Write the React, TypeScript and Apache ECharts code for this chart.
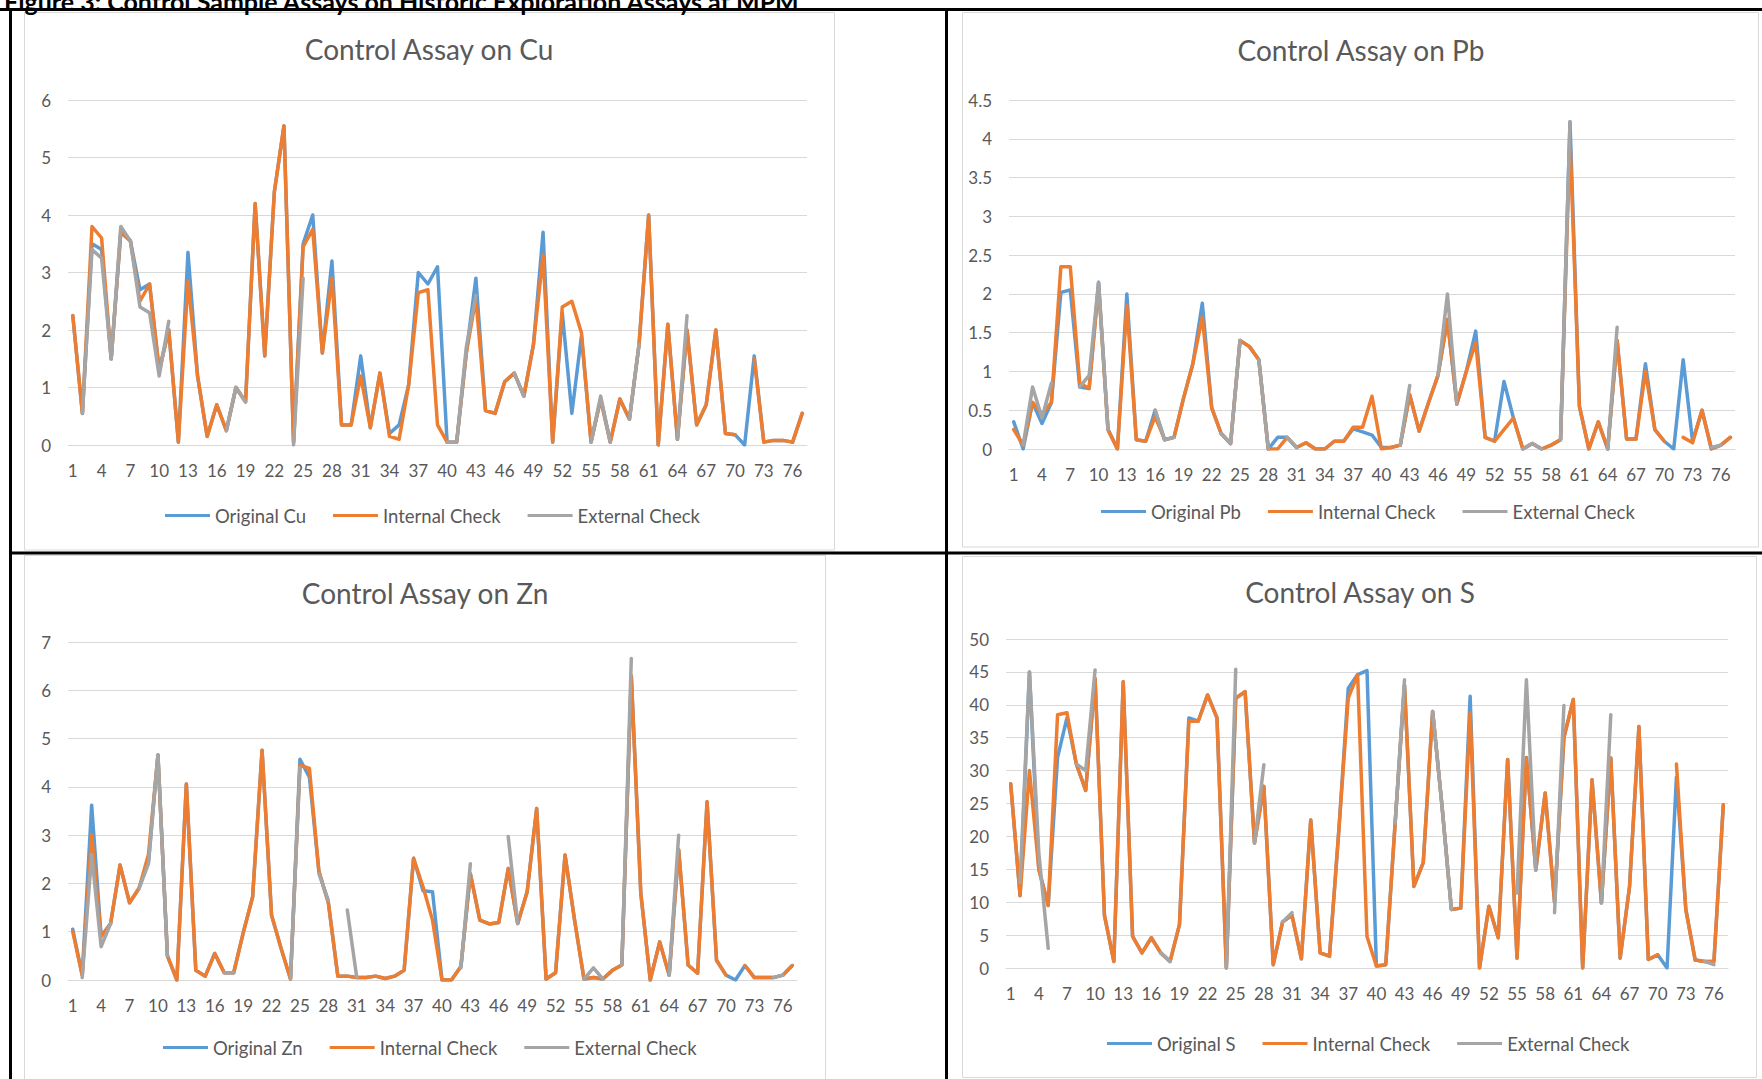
import React, { useEffect, useRef } from "react";
import * as echarts from "echarts";

// Sample numbers 1..77
const categories: string[] = Array.from({ length: 77 }, (_, i) => String(i + 1));

// ---------- Cu ----------
const cuOriginal = [2.25,0.55,3.5,3.4,1.5,3.7,3.55,2.7,2.8,1.3, 2.0,0.05,3.35,1.2,0.15,0.7,0.25,1.0,0.75,4.2, 1.55,4.4,5.55,0.05,3.5,4.0,1.6,3.2,0.35,0.35, 1.55,0.3,1.25,0.2,0.35,1.05,3.0,2.8,3.1,0.05, 0.05,1.6,2.9,0.6,0.55,1.1,1.25,0.85,1.75,3.7, 0.05,2.3,0.55,1.9,0.05,0.8,0.05,0.8,0.45,1.75, 4.0,0.0,2.1,0.1,2.0,0.35,0.7,2.0,0.2,0.18, 0.0,1.55,0.05,0.08,0.08,0.05,0.55];
const cuInternal = [2.25,0.55,3.8,3.6,1.5,3.7,3.55,2.5,2.8,1.3, 2.0,0.05,2.85,1.2,0.15,0.7,0.25,1.0,0.75,4.2, 1.55,4.4,5.55,0.05,3.45,3.75,1.6,2.9,0.35,0.35, 1.2,0.3,1.25,0.15,0.1,1.05,2.65,2.7,0.35,0.05, 0.05,1.6,2.55,0.6,0.55,1.1,1.25,0.85,1.75,3.3, 0.05,2.4,2.5,1.95,0.05,0.8,0.05,0.8,0.45,1.75, 4.0,0.0,2.1,0.1,2.0,0.35,0.7,2.0,0.2,0.18, null,1.5,0.05,0.08,0.08,0.05,0.55];
const cuExternal = [null,0.55,3.4,3.25,1.5,3.8,3.55,2.4,2.3,1.2, 2.15,null,null,null,null,null,0.25,1.0,0.75,null, null,null,null,0.0,2.9,null,null,null,null,null, null,null,null,null,null,null,null,null,null,0.05, 0.05,1.7,2.6,null,null,null,1.25,0.85,null,null, null,null,null,null,0.05,0.85,0.05,null,0.45,1.75, null,null,null,0.1,2.25,null,null,null,null,null, null,null,null,null,null,null,null];

// ---------- Pb ----------
const pbOriginal = [0.35,0.0,0.6,0.33,0.6,2.02,2.05,0.8,0.78,2.15, 0.25,0.0,2.0,0.12,0.1,0.5,0.12,0.15,0.65,1.1, 1.88,0.53,0.2,0.07,1.4,1.32,1.15,0.0,0.15,0.15, 0.02,0.08,0.0,0.0,0.1,0.1,0.26,0.22,0.18,0.02, 0.02,0.05,0.7,0.23,0.6,0.95,1.67,0.58,1.0,1.52, 0.15,0.1,0.87,0.4,0.0,0.07,0.0,0.05,0.12,4.22, 0.55,0.0,0.35,0.0,1.4,0.13,0.13,1.1,0.25,0.1, 0.0,1.15,0.1,0.5,0.0,0.05,0.15];
const pbInternal = [0.25,0.05,0.6,0.45,0.6,2.35,2.35,0.85,0.78,2.1, 0.25,0.0,1.85,0.12,0.1,0.42,0.12,0.15,0.65,1.1, 1.7,0.53,0.2,0.07,1.4,1.32,1.15,0.0,0.0,0.15, 0.02,0.08,0.0,0.0,0.1,0.1,0.28,0.28,0.68,0.0, 0.02,0.05,0.7,0.23,0.6,0.95,1.67,0.58,1.0,1.37, 0.15,0.1,0.25,0.4,0.0,0.07,0.0,0.05,0.12,4.0, 0.55,0.0,0.35,0.0,1.4,0.13,0.13,1.0,0.25,0.1, null,0.15,0.08,0.5,0.0,0.05,0.15];
const pbExternal = [null,0.05,0.8,0.4,0.85,null,null,0.8,0.95,2.15, 0.25,null,null,null,null,0.5,0.12,0.15,null,null, null,null,0.2,0.07,1.4,null,1.15,0.0,null,0.15, 0.02,null,null,null,null,null,null,null,null,null, null,0.05,0.82,null,null,0.95,2.0,0.58,null,null, null,null,null,null,0.0,0.07,0.0,null,0.12,4.22, null,null,null,0.0,1.57,null,null,null,null,null, null,null,null,null,0.02,0.05,null];

// ---------- Zn ----------
const znOriginal = [1.05,0.1,3.62,0.9,1.17,2.38,1.6,1.9,2.45,4.66, 0.5,0.0,4.06,0.2,0.08,0.55,0.15,0.15,0.97,1.72, 4.76,1.34,0.66,0.02,4.57,4.2,2.25,1.6,0.08,0.08, 0.05,0.05,0.08,0.03,0.08,0.2,2.52,1.85,1.83,0.0, 0.0,0.28,2.2,1.24,1.16,1.19,2.31,1.17,1.83,3.55, 0.02,0.15,2.59,1.25,0.02,0.05,0.02,0.2,0.31,6.3, 1.8,0.0,0.79,0.1,2.7,0.31,0.14,3.69,0.41,0.1, 0.0,0.3,0.05,0.05,0.05,0.1,0.3];
const znInternal = [1.0,0.1,3.0,0.9,1.17,2.38,1.6,1.9,2.6,4.66, 0.5,0.0,4.06,0.2,0.08,0.55,0.15,0.15,0.97,1.72, 4.76,1.34,0.66,0.02,4.45,4.38,2.25,1.6,0.08,0.08, 0.05,0.05,0.08,0.03,0.08,0.2,2.52,1.93,1.24,0.0, 0.0,0.28,2.2,1.24,1.16,1.19,2.31,1.17,1.83,3.55, 0.02,0.15,2.59,1.25,0.02,0.05,0.02,0.2,0.31,6.3, 1.8,0.0,0.79,0.1,2.7,0.31,0.14,3.69,0.41,0.1, null,0.3,0.05,0.05,0.05,0.1,0.3];
const znExternal = [null,0.05,2.6,0.69,1.17,null,null,1.9,2.41,4.66, 0.5,null,null,null,null,null,0.15,0.15,null,null, null,null,null,0.02,4.4,null,2.2,1.65,null,1.45, 0.05,null,null,null,null,null,null,null,null,null, null,0.25,2.41,null,null,null,2.97,1.17,null,null, null,null,null,null,0.02,0.25,0.02,null,0.31,6.66, null,null,null,0.1,3.0,null,null,null,null,null, null,null,null,null,0.05,0.1,null];

// ---------- S ----------
const sOriginal = [28,11,45,15,9.5,32,38,31,27,44, 8,1,43.5,4.8,2.3,4.6,2.3,1.0,6.6,38, 37.5,41.5,38,0,41,42,19,27.6,0.5,7, 8,1.4,22.5,2.3,1.8,21,42.5,44.6,45.2,0.3, 0.5,22,43,12.4,16,39,24.6,8.9,9.1,41.3, 0,9.4,4.6,31.7,1.5,32,14.9,26.6,10,35, 40.8,0,28.6,9.9,31.9,1.5,12.4,36.7,1.3,2.0, 0,29,8.9,1.2,1.0,1.0,24.8];
const sInternal = [28,11,30,15,9.5,38.5,38.8,31,27,44, 8,1,43.5,4.8,2.3,4.6,2.3,1.0,6.6,37.5, 37.5,41.5,38,0,41,42,19,27.6,0.5,7, 8,1.4,22.5,2.3,1.8,21,41,44.6,4.8,0.3, 0.5,22,43,12.4,16,39,24.6,8.9,9.1,38.8, 0,9.4,4.6,31.7,1.5,32,14.9,26.6,10,35, 40.8,0,28.6,9.9,31.9,1.5,12.4,36.7,1.3,2.0, null,31,8.9,1.2,1.0,1.0,24.8];
const sExternal = [null,13,45,17.5,3,null,null,31,30,45.3, null,null,null,null,null,null,2.3,1.0,null,null, null,null,null,0,45.4,null,19,30.9,null,7, 8.4,null,null,null,null,null,null,null,null,null, null,22,43.8,null,null,39,24.6,8.9,null,null, null,null,null,null,11.4,43.8,14.9,null,8.4,39.9, null,null,null,9.9,38.5,null,null,null,null,null, null,null,null,null,1.0,0.5,null];

const titles = ["Control Assay on Cu", "Control Assay on Pb", "Control Assay on Zn", "Control Assay on S"];
const originalNames = ["Original Cu", "Original Pb", "Original Zn", "Original S"];
const yMax = [6, 4.5, 7, 50];
const yInterval = [1, 0.5, 1, 5];
const caption = "Figure 3: Control Sample Assays on Historic Exploration Assays at MPM";

const FONT = "Lato, 'Open Sans', sans-serif";
const LABEL = "#595959";
const GRIDC = "#d9d9d9";
const COLORS = ["#5B9BD5", "#ED7D31", "#A5A5A5"];

const grids = [
  { left: 68, top: 100, width: 739, height: 345 },
  { left: 1009, top: 100, width: 726, height: 349 },
  { left: 68, top: 642, width: 729, height: 338 },
  { left: 1006, top: 639, width: 722, height: 329 },
];
const titlePos = [ [429, 49], [1361, 50], [425, 593], [1360, 592] ];
const legendPos = [ [165, 517], [1101, 513], [163, 1049], [1107, 1045] ];

export default function App() {
  const ref = useRef<HTMLDivElement>(null);
  useEffect(() => {
    if (!ref.current) return;
    const chart = echarts.init(ref.current, undefined, { renderer: "svg" });
    const panels = [
      [cuOriginal, cuInternal, cuExternal],
      [pbOriginal, pbInternal, pbExternal],
      [znOriginal, znInternal, znExternal],
      [sOriginal, sInternal, sExternal],
    ];
    const series: any[] = [];
    panels.forEach((p, k) => {
      const names = [originalNames[k], "Internal Check", "External Check"];
      p.forEach((d, j) => {
        series.push({
          type: "line",
          name: names[j],
          xAxisIndex: k,
          yAxisIndex: k,
          data: d,
          symbol: "none",
          connectNulls: false,
          lineStyle: { width: 3.5, color: COLORS[j], cap: "round", join: "round" },
          itemStyle: { color: COLORS[j] },
          emphasis: { disabled: true },
        });
      });
    });
    const option: any = {
      animation: false,
      backgroundColor: "#ffffff",
      textStyle: { fontFamily: FONT },
      grid: grids.map((g) => ({ ...g, containLabel: false })),
      xAxis: grids.map((_, k) => ({
        type: "category",
        gridIndex: k,
        data: categories,
        boundaryGap: true,
        axisTick: { show: false },
        axisLine: { lineStyle: { color: GRIDC, width: 1 } },
        axisLabel: { interval: 2, color: LABEL, fontSize: 17, margin: 17, fontFamily: FONT },
      })),
      yAxis: grids.map((_, k) => ({
        type: "value",
        gridIndex: k,
        min: 0,
        max: yMax[k],
        interval: yInterval[k],
        axisLine: { show: false },
        axisTick: { show: false },
        splitLine: { lineStyle: { color: GRIDC, width: 1 } },
        axisLabel: { color: LABEL, fontSize: 17, margin: 17, fontFamily: FONT },
      })),
      legend: legendPos.map((pos, k) => ({
        left: pos[0],
        top: pos[1] - 11,
        padding: 0,
        icon: "rect",
        itemWidth: 45,
        itemHeight: 3,
        itemGap: 27,
        selectedMode: false,
        textStyle: { color: LABEL, fontSize: 18.5, fontFamily: FONT },
        data: [originalNames[k], "Internal Check", "External Check"],
      })),
      series,
      graphic: [
        { type: "rect", shape: { x: 24.5, y: 12.5, width: 810, height: 537.5 }, style: { fill: "none", stroke: GRIDC, lineWidth: 1 } },
        { type: "rect", shape: { x: 962.5, y: 12.5, width: 796, height: 534.5 }, style: { fill: "none", stroke: GRIDC, lineWidth: 1 } },
        { type: "rect", shape: { x: 24.5, y: 555.5, width: 801, height: 530 }, style: { fill: "none", stroke: GRIDC, lineWidth: 1 } },
        { type: "rect", shape: { x: 962.5, y: 556.5, width: 794, height: 521 }, style: { fill: "none", stroke: GRIDC, lineWidth: 1 } },
        { type: "line", shape: { x1: 0, y1: 9.5, x2: 1762, y2: 9.5 }, style: { stroke: "#000", lineWidth: 3 } },
        { type: "line", shape: { x1: 10.5, y1: 8, x2: 10.5, y2: 1079 }, style: { stroke: "#000", lineWidth: 3 } },
        { type: "line", shape: { x1: 946.5, y1: 8, x2: 946.5, y2: 1079 }, style: { stroke: "#000", lineWidth: 3 } },
        { type: "line", shape: { x1: 10, y1: 553, x2: 1762, y2: 553 }, style: { stroke: "#000", lineWidth: 3 } },
        {
          type: "text", x: 4, y: 13,
          style: { text: caption, fontSize: 25, fontWeight: "bold", fontFamily: FONT, fill: "#000", textAlign: "left", align: "left", textVerticalAlign: "bottom", verticalAlign: "bottom" },
        },
        ...titles.map((t, k) => ({
          type: "text", x: titlePos[k][0], y: titlePos[k][1],
          style: { text: t, fontSize: 28, fontFamily: FONT, fill: LABEL, textAlign: "center", align: "center", textVerticalAlign: "middle", verticalAlign: "middle" },
        })),
      ],
    };
    chart.setOption(option);
    return () => chart.dispose();
  }, []);
  return (
    <div
      ref={ref}
      style={{ position: "absolute", left: 0, top: 0, width: 1762, height: 1079, background: "#fff" }}
    />
  );
}
